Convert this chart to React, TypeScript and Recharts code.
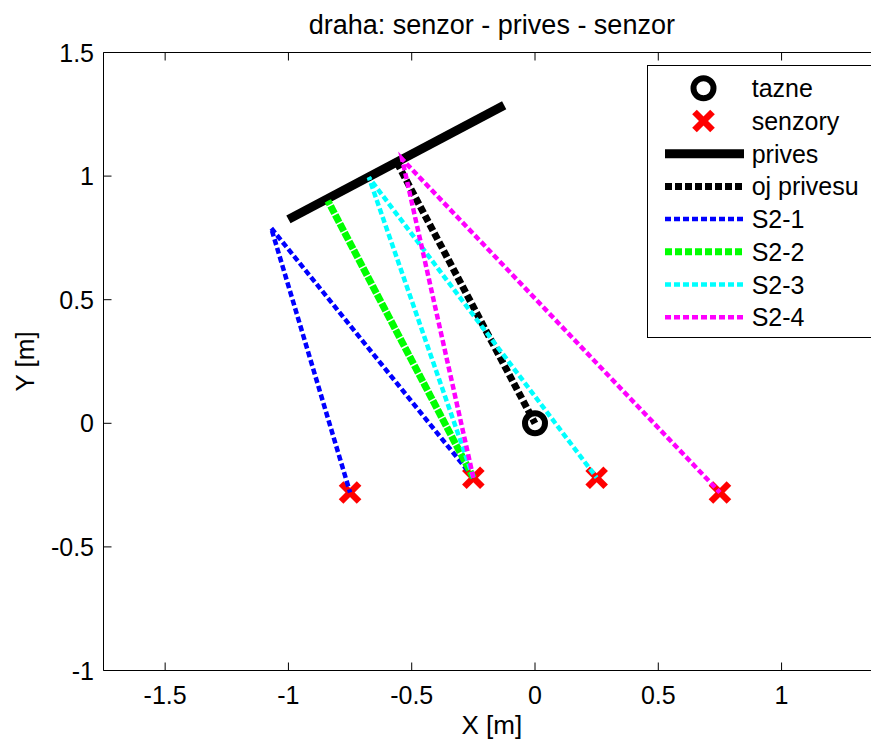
import React from "react";
import { ScatterChart, Scatter, XAxis, YAxis } from "recharts";

// axis ticks
const xTicks = [-1.5, -1, -0.5, 0, 0.5, 1];
const yTicks = [-1, -0.5, 0, 0.5, 1, 1.5];

// tractor hitch point
const tazneX = [0];
const tazneY = [0];

// ultrasonic sensors on the tractor rear
const sensorX = [-0.75, -0.25, 0.25, 0.75];
const sensorY = [-0.28, -0.22, -0.22, -0.28];

// trailer front edge (two end points)
const privesX = [-1.0, -0.125];
const privesY = [0.825, 1.287];

// drawbar: trailer centre -> hitch
const ojX = [-0.56, 0];
const ojY = [1.055, 0];

// echo points on the trailer for S2 -> trailer -> Sk
const pathNames = ["S2-1", "S2-2", "S2-3", "S2-4"];
const hitX = [-1.07, -0.84, -0.674, -0.539];
const hitY = [0.79, 0.9, 0.995, 1.069];

// styles
const pathColors = ["#0000ff", "#00ff00", "#00ffff", "#ff00ff"];
const pathWidths = [4.5, 7, 4.5, 4.5];
const FONT = "'Liberation Sans', Arial, Helvetica, sans-serif";
const TICK_LEN = 8;
const TICK_FS = 25;

const toPts = (xs: number[], ys: number[]) =>
  xs.map((x, i) => ({ x, y: ys[i] }));

const tazne = toPts(tazneX, tazneY);
const sensors = toPts(sensorX, sensorY);
const privesPts = toPts(privesX, privesY);
const ojPts = toPts(ojX, ojY);
const paths = hitX.map((hx, k) => [
  sensors[1],
  { x: hx, y: hitY[k] },
  sensors[k],
]);

const lineSeries = [
  { name: "prives", data: privesPts, color: "#000", width: 9, dash: undefined as string | undefined },
  { name: "oj privesu", data: ojPts, color: "#000", width: 7, dash: "7 3" },
  ...paths.map((d, k) => ({
    name: pathNames[k],
    data: d,
    color: pathColors[k],
    width: pathWidths[k],
    dash: pathWidths[k] > 5 ? "7 3" : "6 3",
  })),
];

const Nothing = () => <g />;

const Ring = (props: any) => (
  <circle cx={props.cx} cy={props.cy} r={10} fill="none" stroke="#000" strokeWidth={6} />
);

const Cross = (props: any) => {
  const { cx, cy } = props;
  const d = 9;
  return (
    <g stroke="#ff0000" strokeWidth={6.5}>
      <line x1={cx - d} y1={cy - d} x2={cx + d} y2={cy + d} />
      <line x1={cx - d} y1={cy + d} x2={cx + d} y2={cy - d} />
    </g>
  );
};

const BottomTick = (props: any) => {
  const { x, y, payload } = props;
  return (
    <g>
      <line x1={x} x2={x} y1={y} y2={y - TICK_LEN} stroke="#000" />
      <text x={x} y={y + 33.5} textAnchor="middle" fontSize={TICK_FS} fill="#000" fontFamily={FONT}>
        {payload.value}
      </text>
    </g>
  );
};

const TopTick = (props: any) => {
  const { x, y } = props;
  return <line x1={x} x2={x} y1={y} y2={y + TICK_LEN} stroke="#000" />;
};

const LeftTick = (props: any) => {
  const { x, y, payload } = props;
  return (
    <g>
      <line x1={x} x2={x + TICK_LEN} y1={y} y2={y} stroke="#000" />
      <text x={x - 9.5} y={y + 9} textAnchor="end" fontSize={TICK_FS} fill="#000" fontFamily={FONT}>
        {payload.value}
      </text>
    </g>
  );
};

const RightTick = (props: any) => {
  const { x, y } = props;
  return <line x1={x} x2={x - TICK_LEN} y1={y} y2={y} stroke="#000" />;
};

function LegendBox() {
  const left = 647.5;
  const top = 65.5;
  const rowY = (i: number) => 88.3 + i * 32.7;
  const items = [
    { name: "tazne", kind: "ring" },
    { name: "senzory", kind: "cross" },
    ...lineSeries.map((s) => ({ name: s.name, kind: "line", s })),
  ] as any[];
  return (
    <svg
      width={890}
      height={740}
      style={{ position: "absolute", left: 0, top: 0, pointerEvents: "none" }}
    >
      <rect x={left} y={top} width={228} height={272} fill="#fff" stroke="#000" strokeWidth={1} />
      {items.map((it, i) => {
        const cy = rowY(i);
        let mark = null;
        if (it.kind === "ring") mark = <Ring cx={703.5} cy={cy} />;
        else if (it.kind === "cross") mark = <Cross cx={703.5} cy={cy} />;
        else
          mark = (
            <line
              x1={665}
              x2={744}
              y1={cy}
              y2={cy}
              stroke={it.s.color}
              strokeWidth={it.s.width}
              strokeDasharray={it.s.dash}
            />
          );
        return (
          <g key={it.name}>
            {mark}
            <text x={751.7} y={cy + 9} fontSize={25} fill="#000" fontFamily={FONT}>
              {it.name}
            </text>
          </g>
        );
      })}
    </svg>
  );
}

export default function App() {
  return (
    <div
      style={{
        position: "absolute",
        left: 0,
        top: 0,
        width: 871,
        height: 740,
        overflow: "hidden",
        background: "#fff",
        fontFamily: FONT,
      }}
    >
      <ScatterChart
        width={890}
        height={740}
        margin={{ top: 0, right: 8.8, bottom: 0, left: 0 }}
      >
        <XAxis
          xAxisId={0}
          type="number"
          dataKey="x"
          domain={[-1.75, 1.4]}
          allowDataOverflow
          ticks={xTicks}
          interval={0}
          height={69.5}
          tickSize={0}
          tickMargin={0}
          tickLine={false}
          axisLine={{ stroke: "#000" }}
          tick={<BottomTick />}
          label={{
            value: "X [m]",
            position: "insideBottom",
            offset: 6.3,
            fill: "#000",
            fontSize: 26,
            fontFamily: FONT,
          }}
        />
        <XAxis
          xAxisId="top"
          orientation="top"
          type="number"
          dataKey="x"
          domain={[-1.75, 1.4]}
          allowDataOverflow
          ticks={xTicks}
          interval={0}
          height={52.5}
          tickSize={0}
          tickMargin={0}
          tickLine={false}
          axisLine={{ stroke: "#000" }}
          tick={<TopTick />}
          label={{
            value: "draha: senzor - prives - senzor",
            position: "insideTop",
            offset: 14.5,
            fill: "#000",
            fontSize: 27,
            fontFamily: FONT,
          }}
        />
        <YAxis
          yAxisId={0}
          type="number"
          dataKey="y"
          domain={[-1, 1.5]}
          allowDataOverflow
          ticks={yTicks}
          interval={0}
          width={103.5}
          tickSize={0}
          tickMargin={0}
          tickLine={false}
          axisLine={{ stroke: "#000" }}
          tick={<LeftTick />}
          label={{
            value: "Y [m]",
            angle: -90,
            position: "insideLeft",
            offset: 24.4,
            fill: "#000",
            fontSize: 26,
            fontFamily: FONT,
            style: { textAnchor: "middle" },
          }}
        />
        <YAxis
          yAxisId="right"
          orientation="right"
          type="number"
          dataKey="y"
          domain={[-1, 1.5]}
          allowDataOverflow
          ticks={yTicks}
          interval={0}
          width={1}
          tickSize={0}
          tickMargin={0}
          tickLine={false}
          axisLine={{ stroke: "#000" }}
          tick={<RightTick />}
        />
        <Scatter
          name="tazne"
          data={tazne}
          shape={<Ring />}
          isAnimationActive={false}
        />
        <Scatter
          name="senzory"
          data={sensors}
          shape={<Cross />}
          isAnimationActive={false}
        />
        {lineSeries.map((s) => (
          <Scatter
            key={s.name}
            name={s.name}
            data={s.data}
            shape={<Nothing />}
            line={{
              stroke: s.color,
              strokeWidth: s.width,
              strokeDasharray: s.dash,
            }}
            lineType="joint"
            isAnimationActive={false}
          />
        ))}
      </ScatterChart>
      <LegendBox />
    </div>
  );
}
